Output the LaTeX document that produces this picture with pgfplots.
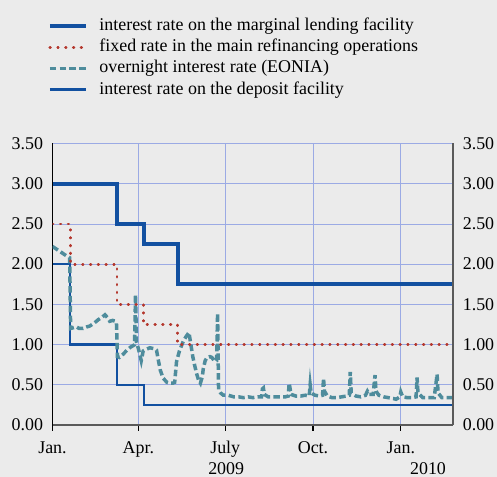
\documentclass[border=0pt]{standalone}
\usepackage{fontspec}
\setmainfont{Liberation Serif}
\usepackage{pgfplots}
\pgfplotsset{compat=1.18}
\definecolor{bg}{RGB}{235,235,235}
\definecolor{mlf}{RGB}{18,80,160}
\definecolor{mro}{RGB}{180,55,45}
\definecolor{eon}{RGB}{78,140,156}
\definecolor{grd}{RGB}{155,170,228}
\definecolor{axg}{RGB}{90,90,90}
\newcommand{\lf}{\fontsize{18}{21}\selectfont}
\pgfplotsset{numfmt/.style={/pgf/number format/fixed, /pgf/number format/fixed zerofill, /pgf/number format/precision=2, /pgf/number format/assume math mode=true}}
\begin{document}
\begin{tikzpicture}[x=1bp,y=1bp]
\fill[bg] (0,0) rectangle (497,477);
\begin{axis}[
  at={(52.5bp,52bp)}, anchor=south west,
  scale only axis, width=400.8bp, height=281.5bp,
  xmin=0, xmax=420, ymin=0, ymax=3.5,
  clip mode=individual,
  axis x line*=bottom, axis y line*=left,
  x axis line style={-, axg, line width=1.8bp},
  y axis line style={-, black, line width=1.5bp},
  xtick={0,90,181,273,365},
  xticklabels={Jan.,Apr.,July,Oct.,Jan.},
  ytick={0,0.5,1,1.5,2,2.5,3,3.5},
  yticklabel style={numfmt, xshift=-6bp},
  tick label style={font=\lf},
  xtick align=outside, major tick length=6bp,
  xtick style={black, line width=1.3bp},
  ytick style={draw=none},
  grid=major, major grid style={grd, line width=0.8bp},
  xticklabel style={yshift=-7bp},
  legend cell align=left,
  legend image code/.code={\draw[#1] (0bp,0bp) -- (36bp,0bp);},
  legend style={draw=none, fill=none, font=\lf, at={(-0.012,1.456)}, anchor=north west,
    inner sep=0pt, row sep=0pt,
    nodes={text height=12.5bp, text depth=3.8bp, inner sep=2.5bp},
    /tikz/every odd column/.append style={column sep=9bp}},
]
\addlegendimage{mlf, line width=4bp}
\addlegendentry{interest rate on the marginal lending facility}
\addlegendimage{mro, line width=2.8bp, line cap=round, dash pattern=on 0.6bp off 7.2bp}
\addlegendentry{fixed rate in the main refinancing operations}
\addlegendimage{eon, line width=3.5bp, dash pattern=on 6.5bp off 3.3bp}
\addlegendentry{overnight interest rate (EONIA)}
\addlegendimage{mlf, line width=3bp}
\addlegendentry{interest rate on the deposit facility}

% deposit facility
\addplot[forget plot, mlf, line width=2.2bp] coordinates {
(0,2.0) (18.5,2.0) (18.5,1.0) (67.5,1.0) (67.5,0.5) (96,0.5) (96,0.25) (420,0.25)};
% marginal lending facility
\addplot[forget plot, mlf, line width=4bp] coordinates {
(0,3.0) (67.5,3.0) (67.5,2.5) (96,2.5) (96,2.25) (131,2.25) (131,1.75) (420,1.75)};
% EONIA
\addplot[forget plot, eon, line width=3.5bp, dash pattern=on 6.5bp off 3.3bp] coordinates {
(0,2.22) (5,2.18) (10,2.14) (15,2.10) (18,2.08) (19,1.20) (22,1.21) (25,1.22) (28,1.20)
(32,1.20) (36,1.22) (39,1.23) (44,1.27) (48,1.31) (52,1.34) (55,1.37) (58,1.33) (60,1.29)
(63,1.30) (66,1.29) (67,1.28) (68,0.85) (70,0.84) (74,0.88) (78,0.93) (82,0.97) (85,0.99)
(86,1.00) (87,1.62) (88,1.03) (90,0.95) (92,0.85) (93,0.80) (95,0.92) (98,0.94) (102,0.96)
(106,0.95) (109,0.93) (111,0.80) (113,0.68) (116,0.58) (120,0.53) (123,0.52) (126,0.52)
(128,0.53) (130,0.79) (133,0.92) (137,1.04) (140,1.10) (143,1.15) (145,1.00) (147,0.85)
(149,0.74) (151,0.64) (153,0.56) (155,0.52) (157,0.60) (158,0.70) (160,0.80) (162,0.84)
(165,0.85) (167,0.84) (170,0.79) (172,0.80) (173,1.39) (174,0.44) (176,0.40) (179,0.37)
(184,0.37) (190,0.35) (195,0.35) (200,0.34) (205,0.35) (210,0.34) (215,0.35) (219,0.35)
(220,0.45) (221,0.46) (222,0.38) (226,0.35) (232,0.35) (238,0.35) (244,0.35) (247,0.36)
(248,0.52) (249,0.45) (250,0.38) (255,0.36) (260,0.36) (265,0.37) (269,0.36) (270,0.50)
(271,0.40) (275,0.37) (280,0.36) (283,0.37) (284,0.58) (285,0.42) (288,0.36) (293,0.34)
(298,0.34) (303,0.35) (308,0.36) (311,0.37) (312,0.66) (313,0.40) (318,0.36) (323,0.35)
(328,0.37) (330,0.42) (332,0.38) (336,0.38) (338,0.62) (339,0.42) (342,0.37) (347,0.35)
(352,0.34) (357,0.33) (360,0.32) (364,0.35) (365,0.41) (367,0.35) (372,0.34) (377,0.34)
(381,0.35) (382,0.59) (383,0.40) (388,0.34) (394,0.34) (400,0.34) (403,0.63) (404,0.40)
(408,0.34) (414,0.34) (420,0.34)};
% main refinancing rate
\addplot[forget plot, mro, line width=2.8bp, line cap=round, dash pattern=on 0.6bp off 7.2bp] coordinates {
(0,2.5) (18.5,2.5) (18.5,2.0) (67.5,2.0) (67.5,1.5) (95,1.5) (95,1.25) (131,1.25) (131,1.0) (420,1.0)};
\node[font=\lf, anchor=base] at (axis cs:182,0) [yshift=-49bp] {2009};
\node[font=\lf, anchor=base] at (axis cs:393.5,0) [yshift=-49bp] {2010};
\end{axis}
\begin{axis}[
  at={(52.5bp,52bp)}, anchor=south west,
  scale only axis, width=400.8bp, height=281.5bp,
  xmin=0, xmax=420, ymin=0, ymax=3.5,
  axis x line=none, axis y line*=right,
  y axis line style={-, axg, line width=1.8bp},
  ytick={0,0.5,1,1.5,2,2.5,3,3.5},
  yticklabel style={numfmt, xshift=6bp},
  tick label style={font=\lf},
  ytick style={draw=none},
]
\addplot[draw=none, forget plot] coordinates {(0,0)};
\end{axis}
\pgfresetboundingbox
\path (0,0) rectangle (497,477);
\end{tikzpicture}
\end{document}
